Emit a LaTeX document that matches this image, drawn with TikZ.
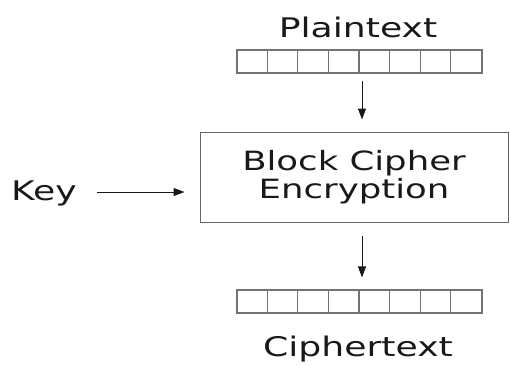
\documentclass[tikz,border=0pt]{standalone}
\usepackage{fontspec}
\setmainfont[FakeStretch=1.34]{DejaVu Sans}
\usetikzlibrary{arrows.meta}
\begin{document}
\begin{tikzpicture}[x=1pt,y=1pt,
  lbl/.style={font=\fontsize{27}{30}\selectfont, text=black!90, inner sep=0pt},
  row/.style={draw=gray!90!black, line width=1.1pt, minimum width=245pt, minimum height=23pt, inner sep=0pt},
  cell/.style={draw=gray!90!black, line width=1.1pt},
  conn/.style={draw=black!90, line width=1pt, -{Triangle[length=11pt,width=8pt]}},
  mainbox/.style={draw=gray!80!black, line width=1pt, minimum width=308pt, minimum height=90pt, inner sep=0pt, align=center, font=\fontsize{26.5}{27.5}\selectfont, text=black!90}]
\useasboundingbox (0,0) rectangle (510,-365);
\node[lbl, anchor=base] (ptxt) at (358,-37) {Plaintext};
\node[row] (prow) at (359.5,-61.5) {};
\foreach \i in {1,...,7} \draw[cell] ([xshift=\i*30.625pt]prow.north west) -- ([xshift=\i*30.625pt]prow.south west);
\node[mainbox] (box) at (354,-177) {Block Cipher\\Encryption};
\node[lbl, anchor=base] (key) at (44,-200) {Key};
\node[row] (crow) at (359.5,-301.5) {};
\foreach \i in {1,...,7} \draw[cell] ([xshift=\i*30.625pt]crow.north west) -- ([xshift=\i*30.625pt]crow.south west);
\node[lbl, anchor=base] (ctxt) at (358,-356) {Ciphertext};
\draw[conn, shorten <=7pt, shorten >=12pt] ([xshift=2.5pt]prow.south) -- ([xshift=2.5pt]prow.south |- box.north);
\draw[conn, shorten <=13pt, shorten >=12pt] ([xshift=8pt]box.south) -- ([xshift=8pt]box.south |- crow.north);
\draw[conn, shorten <=0pt, shorten >=15pt] (97,-192) coordinate (kstart) -- (kstart -| box.west);
\end{tikzpicture}
\end{document}
